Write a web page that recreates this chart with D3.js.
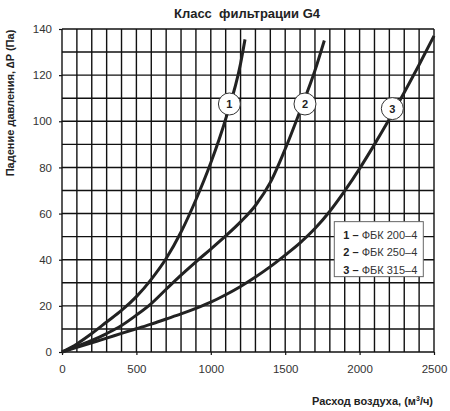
<!DOCTYPE html>
<html>
<head>
<meta charset="utf-8">
<script src="https://cdn.jsdelivr.net/npm/d3@7"></script>
<style>
  body { margin: 0; background: #fff; }
  svg { display: block; font-family: "Liberation Sans", Arial, sans-serif; }
</style>
</head>
<body>
<div id="chart"></div>
<script>
// данные
const flowTicks = [0, 500, 1000, 1500, 2000, 2500];
const dpTicks = [0, 20, 40, 60, 80, 100, 120, 140];

const curve1 = [[0, 0], [100, 3.5], [200, 8], [300, 13], [400, 18], [500, 24], [600, 31.5], [700, 40.5],
  [800, 52], [900, 66], [1000, 82], [1100, 101], [1200, 125], [1230, 135.5]];
const curve2 = [[0, 0], [100, 2.5], [200, 5], [300, 8], [400, 11.5], [500, 16], [600, 21], [700, 27.2],
  [800, 33.3], [900, 39.1], [1000, 44.6], [1100, 50.3], [1200, 56.4], [1300, 63.5], [1400, 73.5],
  [1500, 88], [1600, 104.5], [1700, 122], [1763, 135]];
const curve3 = [[0, 0], [100, 2], [200, 4], [300, 6], [400, 8.1], [500, 10.1], [600, 12.1], [700, 14.3],
  [800, 16.5], [900, 18.9], [1000, 21.6], [1100, 24.8], [1200, 28.4], [1300, 32.5], [1400, 37],
  [1500, 42], [1600, 47.3], [1700, 53.5], [1800, 61], [1900, 69.8], [2000, 79.5], [2100, 90],
  [2200, 101], [2300, 112.5], [2400, 124.5], [2500, 137]];

const curveLabels = ["1", "2", "3"];
const labelPos = [[1125, 107.5], [1633, 107.5], [2220, 105.5]];
const legendNames = ["ФБК 200–4", "ФБК 250–4", "ФБК 315–4"];

const W = 450, H = 411;
const margin = { top: 29, right: 16, bottom: 59, left: 62 };
const width = W - margin.left - margin.right;
const height = H - margin.top - margin.bottom;

const svg = d3.select("#chart").append("svg")
  .attr("width", W).attr("height", H);

const g = svg.append("g")
  .attr("transform", `translate(${margin.left},${margin.top})`);

const x = d3.scaleLinear().domain([0, 2500]).range([0, width]);
const y = d3.scaleLinear().domain([0, 140]).range([height, 0]);

// сетка
g.append("g").selectAll("line")
  .data(d3.range(0, 2501, 100))
  .enter().append("line")
  .attr("x1", d => x(d)).attr("x2", d => x(d))
  .attr("y1", 0).attr("y2", height)
  .attr("stroke", "#111").attr("stroke-width", 1.4);

g.append("g").selectAll("line")
  .data(d3.range(0, 141, 10))
  .enter().append("line")
  .attr("x1", 0).attr("x2", width)
  .attr("y1", d => y(d)).attr("y2", d => y(d))
  .attr("stroke", "#111").attr("stroke-width", 1.4);

// оси
const xAxis = g.append("g")
  .attr("transform", `translate(0,${height})`)
  .call(d3.axisBottom(x).tickValues(flowTicks).tickFormat(d3.format("d")).tickSize(3).tickPadding(10));
const yAxis = g.append("g")
  .call(d3.axisLeft(y).tickValues(dpTicks).tickFormat(d3.format("d")).tickSize(3).tickPadding(7));

[xAxis, yAxis].forEach(a => {
  a.select(".domain").remove();
  a.selectAll(".tick line").attr("stroke", "#111").attr("stroke-width", 1.2);
  a.selectAll("text")
    .style("font-size", "11.5px")
    .style("font-family", "'Liberation Sans', Arial, sans-serif")
    .attr("fill", "#333");
});

// кривые
const line = d3.line()
  .x(d => x(d[0])).y(d => y(d[1]))
  .curve(d3.curveMonotoneX);

[curve1, curve2, curve3].forEach(c => {
  g.append("path")
    .datum(c)
    .attr("d", line)
    .attr("fill", "none")
    .attr("stroke", "#222")
    .attr("stroke-width", 3);
});

// номера кривых
const marks = g.append("g").selectAll("g")
  .data(labelPos)
  .enter().append("g")
  .attr("transform", d => `translate(${x(d[0])},${y(d[1])})`);
marks.append("circle")
  .attr("r", 11)
  .attr("fill", "#fff")
  .attr("stroke", "#333")
  .attr("stroke-width", 1);
marks.append("text")
  .attr("text-anchor", "middle")
  .attr("dy", "0.36em")
  .style("font-size", "11px")
  .style("font-weight", "bold")
  .attr("fill", "#222")
  .text((d, i) => curveLabels[i]);

// легенда
const lg = g.append("g")
  .attr("transform", `translate(${x(1830)},${y(56.5)})`);
lg.append("rect")
  .attr("width", 89).attr("height", 55)
  .attr("fill", "#fff")
  .attr("stroke", "#666")
  .attr("stroke-width", 1);
const rows = lg.selectAll("text")
  .data(legendNames)
  .enter().append("text")
  .attr("x", 9)
  .attr("y", (d, i) => 17 + i * 17.5)
  .style("font-size", "11px")
  .attr("fill", "#333");
rows.append("tspan")
  .style("font-weight", "bold")
  .attr("fill", "#222")
  .text((d, i) => curveLabels[i] + " – ");
rows.append("tspan").text(d => d);

// заголовки
svg.append("text")
  .attr("x", 247).attr("y", 18)
  .attr("text-anchor", "middle")
  .style("font-size", "13px")
  .style("font-weight", "bold")
  .attr("fill", "#222")
  .attr("xml:space", "preserve")
  .text("Класс  фильтрации G4");

svg.append("text")
  .attr("transform", "translate(14,103) rotate(-90)")
  .attr("text-anchor", "middle")
  .style("font-size", "11px")
  .style("font-weight", "bold")
  .attr("fill", "#222")
  .text("Падение давления, ∆P (Па)");

const xt = svg.append("text")
  .attr("x", 433).attr("y", 405)
  .attr("text-anchor", "end")
  .style("font-size", "11px")
  .style("font-weight", "bold")
  .attr("fill", "#222");
xt.append("tspan").text("Расход воздуха, (м");
xt.append("tspan").attr("dy", -4).style("font-size", "7px").text("3");
xt.append("tspan").attr("dy", 4).text("/ч)");
</script>
</body>
</html>
